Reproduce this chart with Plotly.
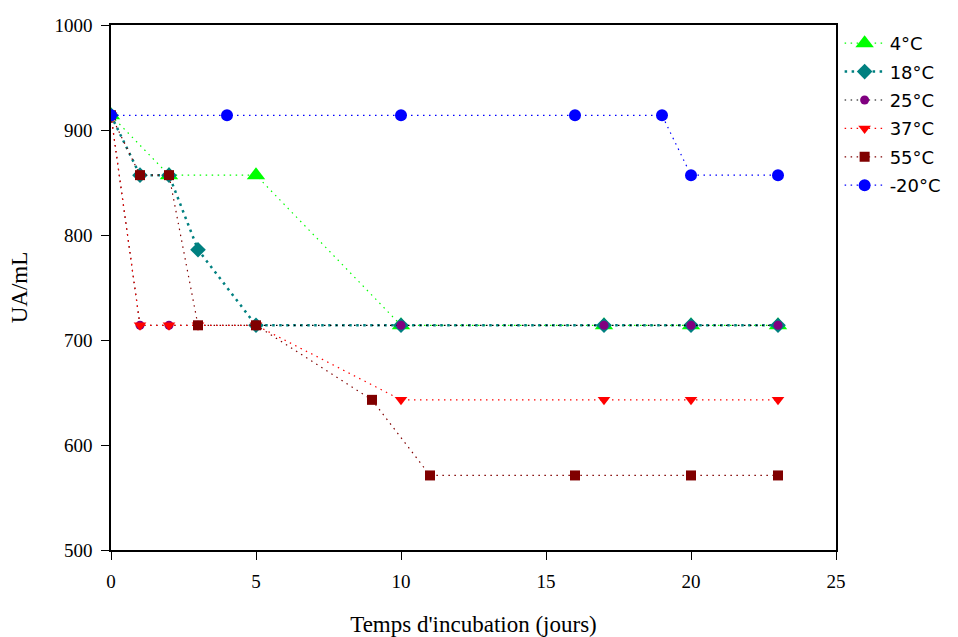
import plotly.graph_objects as go

x_4 = [0, 2, 5, 10, 17, 20, 23]
y_4 = [914, 857, 857, 714, 714, 714, 714]
x_18 = [0, 1, 2, 3, 5, 10, 17, 20, 23]
y_18 = [914, 857, 857, 786, 714, 714, 714, 714, 714]
x_25 = [0, 1, 2, 3, 5, 10, 17, 20, 23]
y_25 = [914, 714, 714, 714, 714, 714, 714, 714, 714]
x_37 = [0, 1, 2, 3, 5, 10, 17, 20, 23]
y_37 = [914, 714, 714, 714, 714, 643, 643, 643, 643]
x_55 = [0, 1, 2, 3, 5, 9, 11, 16, 20, 23]
y_55 = [914, 857, 857, 714, 714, 643, 571, 571, 571, 571]
x_m20 = [0, 4, 10, 16, 19, 20, 23]
y_m20 = [914, 914, 914, 914, 914, 857, 857]

fig = go.Figure()
series = [
    ("4°C", x_4, y_4, "#00ff00", "#00ff00", "triangle-up", 16, 1.2, "1.5px,4.5px"),
    ("18°C", x_18, y_18, "#008080", "#008080", "diamond", 12, 2.5, "2.5px,4.5px"),
    ("25°C", x_25, y_25, "#800080", "#000000", "circle", 9, 1.2, "1.5px,4.5px"),
    ("37°C", x_37, y_37, "#ff0000", "#ff0000", "triangle-down", 11, 1.2, "1.5px,4.5px"),
    ("55°C", x_55, y_55, "#800000", "#800000", "square", 10, 1.2, "1.5px,4.5px"),
    ("-20°C", x_m20, y_m20, "#0000ff", "#0000ff", "circle", 12, 1.2, "1.5px,4.5px"),
]
for i, (name, xs, ys, mc, lc, sym, sz, lw, dash) in enumerate(series):
    fig.add_trace(go.Scatter(
        x=xs, y=ys, name=name, mode="lines+markers", legendgroup=f"g{i}",
        line=dict(color=lc, width=lw, dash=dash),
        marker=dict(color=mc, symbol=sym, size=sz, line=dict(width=0)),
    ))

fig.update_layout(
    width=958, height=637,
    margin=dict(l=111, r=122, t=25, b=87),
    plot_bgcolor="white", paper_bgcolor="white",
    font=dict(family="Liberation Serif", size=19, color="black"),
    legend=dict(x=1.005, y=1.0, xanchor="left", yanchor="top",
                font=dict(family="DejaVu Sans", size=18, color="black"),
                bgcolor="rgba(0,0,0,0)", itemwidth=40, tracegroupgap=2),
    showlegend=True,
)
fig.update_xaxes(range=[0, 25], tickvals=[0, 5, 10, 15, 20, 25], automargin=False,
                 showgrid=False, zeroline=False, showline=True, linecolor="black",
                 linewidth=1.5, mirror=True, ticks="outside", ticklen=8, tickcolor="black",
                 ticklabelstandoff=5,
                 title=dict(text="Temps d'incubation (jours)", font=dict(size=23), standoff=28))
fig.update_yaxes(range=[500, 1000], tickvals=[500, 600, 700, 800, 900, 1000], automargin=False,
                 showgrid=False, zeroline=False, showline=True, linecolor="black",
                 linewidth=1.5, mirror=True, ticks="outside", ticklen=8, tickcolor="black",
                 ticklabelstandoff=5,
                 title=dict(text="UA/mL", font=dict(size=23), standoff=20))

fig.write_html("out.html", config={"displayModeBar": False},
               post_script="document.body.style.margin='0';")
